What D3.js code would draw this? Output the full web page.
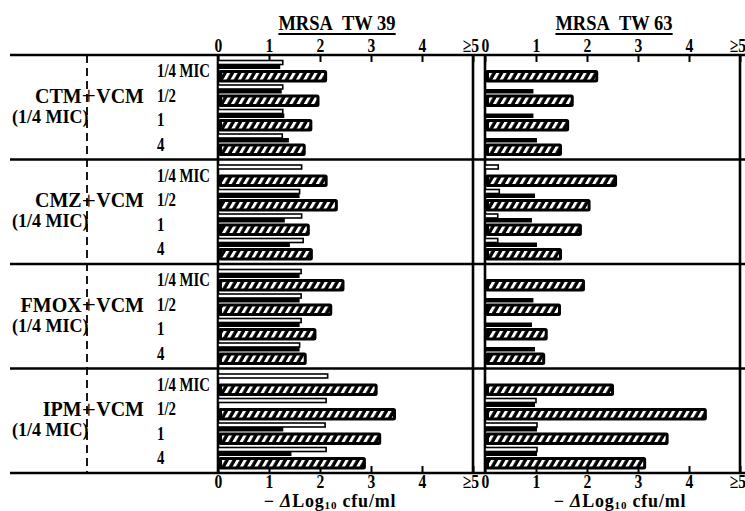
<!DOCTYPE html>
<html>
<head>
<meta charset="utf-8">
<script src="https://cdn.jsdelivr.net/npm/d3@7"></script>
<style>
  html, body { margin: 0; padding: 0; background: #fff; }
  svg { display: block; font-family: "Liberation Serif", "Times New Roman", serif; font-weight: bold; }
</style>
</head>
<body>
<svg id="chart" width="745" height="511"></svg>
<script>
// Combinations of a beta-lactam (at 1/4 MIC) with vancomycin at four concentrations
const groups = ["CTM", "CMZ", "FMOX", "IPM"];
const concentrations = ["1/4 MIC", "1/2", "1", "4"];
const strains = ["MRSA TW 39", "MRSA TW 63"];
const tickValues = [0, 1, 2, 3, 4, 5];
const tickLabels = ["0", "1", "2", "3", "4", "≥5"];

// -ΔLog10 cfu/ml, 16 rows each (4 drugs × 4 VCM concentrations)
// open bars: beta-lactam alone; solid bars: VCM alone; hatched bars: combination
const tw39Open  = [1.27, 1.27, 1.27, 1.26,  1.64, 1.60, 1.64, 1.67,  1.63, 1.63, 1.63, 1.60,  2.15, 2.12, 2.10, 2.12];
const tw39Solid = [1.22, 1.25, 1.30, 1.39,  0.00, 1.60, 1.31, 1.41,  1.60, 1.60, 1.60, 1.60,  0.00, 0.00, 1.28, 1.44];
const tw39Comb  = [2.14, 1.99, 1.85, 1.72,  2.15, 2.35, 1.80, 1.86,  2.48, 2.24, 1.93, 1.74,  3.13, 3.49, 3.20, 2.90];

const tw63Open  = [0.00, 0.00, 0.00, 0.00,  0.26, 0.28, 0.25, 0.25,  0.00, 0.00, 0.00, 0.00,  0.00, 1.00, 1.02, 1.02];
const tw63Solid = [0.00, 0.95, 0.95, 1.02,  0.00, 0.98, 0.92, 1.02,  0.00, 0.95, 0.92, 0.98,  0.00, 0.98, 1.02, 1.02];
const tw63Comb  = [2.22, 1.74, 1.65, 1.51,  2.59, 2.07, 1.90, 1.51,  1.96, 1.49, 1.23, 1.18,  2.53, 4.35, 3.60, 3.16];

const panels = [
  { title: strains[0], open: tw39Open, solid: tw39Solid, comb: tw39Comb, range: [218, 473], titleX: 337, axisTitleX: 330 },
  { title: strains[1], open: tw63Open, solid: tw63Solid, comb: tw63Comb, range: [485, 740], titleX: 614, axisTitleX: 620 }
];

const svg = d3.select("#chart");
const plotTop = 55, plotBottom = 473;

const yGroup = d3.scaleBand().domain(groups).range([plotTop, plotBottom]);
const yRow = d3.scaleBand().domain(concentrations).range([5.5, 103.5]);

// hatch: short white slashes on black
const defs = svg.append("defs");
defs.append("pattern")
  .attr("id", "slash")
  .attr("patternUnits", "userSpaceOnUse")
  .attr("width", 6.3).attr("height", 12)
  .attr("patternTransform", "rotate(30)")
  .append("rect")
  .attr("x", 0).attr("y", 0).attr("width", 2.9).attr("height", 12)
  .attr("fill", "#fff");

// horizontal rules at group boundaries
const rules = groups.map(g => yGroup(g)).concat([plotBottom]);
svg.append("g").selectAll("line").data(rules).join("line")
  .attr("x1", 10).attr("x2", 745)
  .attr("y1", d => d).attr("y2", d => d)
  .attr("stroke", "#000").attr("stroke-width", 2.6);

// dashed divider in the label column
svg.append("line")
  .attr("x1", 87).attr("x2", 87).attr("y1", plotTop).attr("y2", plotBottom)
  .attr("stroke", "#000").attr("stroke-width", 1.8)
  .attr("stroke-dasharray", "8,5");

// group labels: "<drug> + VCM" over "(1/4 MIC)"
groups.forEach(g => {
  const y0 = yGroup(g);
  const lbl = svg.append("text").attr("font-size", 20);
  lbl.append("tspan").attr("x", 144).attr("y", y0 + 47.5).attr("text-anchor", "end").text(g);
  lbl.append("tspan").attr("font-size", 25).attr("font-weight", "normal").attr("dy", 1.5).text("+");
  lbl.append("tspan").attr("dx", 0.5).attr("dy", -1.5).text("VCM");
  lbl.append("tspan").attr("x", 12).attr("y", y0 + 67.5).attr("text-anchor", "start")
    .attr("font-size", 18).text("(1/4 MIC)");

  concentrations.forEach(c => {
    svg.append("text")
      .attr("transform", `translate(157,${y0 + yRow(c) + 16.5}) scale(0.8,1)`)
      .attr("font-size", 18.5)
      .text(c);
  });
});

panels.forEach(p => {
  const x = d3.scaleLinear().domain([0, 5]).range(p.range);

  // frame verticals
  svg.append("g").selectAll("line").data([0, 5]).join("line")
    .attr("x1", d => x(d)).attr("x2", d => x(d))
    .attr("y1", plotTop).attr("y2", plotBottom)
    .attr("stroke", "#000").attr("stroke-width", 2.6);

  // axes (ticks pointing inward)
  const styleAxis = (g, dy) => {
    g.select(".domain").remove();
    g.selectAll(".tick line").attr("stroke", "#000").attr("stroke-width", 2);
    g.selectAll(".tick text")
      .attr("fill", "#000")
      .attr("font-size", 19.5)
      .attr("font-family", "\"Liberation Serif\", serif")
      .attr("font-weight", "bold")
      .attr("dy", dy)
      .attr("transform", "scale(0.8,1)")
      .filter((d, i) => i === tickValues.length - 1)
      .attr("text-anchor", "end").attr("x", 7);
  };
  const fmt = (d, i) => tickLabels[i];

  svg.append("g").attr("transform", `translate(0,${plotTop})`)
    .call(d3.axisTop(x).tickValues(tickValues).tickFormat(fmt).tickSizeInner(-7).tickSizeOuter(0).tickPadding(3))
    .call(g => styleAxis(g, 0));
  svg.append("g").attr("transform", `translate(0,${plotBottom})`)
    .call(d3.axisBottom(x).tickValues(tickValues).tickFormat(fmt).tickSizeInner(-7).tickSizeOuter(0).tickPadding(3))
    .call(g => styleAxis(g, 11.5));

  // strain title, underlined
  const t = svg.append("text")
    .attr("x", p.titleX).attr("y", 30)
    .attr("text-anchor", "middle").attr("font-size", 21)
    .attr("transform", `translate(${p.titleX * (1 - 0.88)},0) scale(0.88,1)`)
    .style("white-space", "pre")
    .text(p.title.replace(" ", "\u00a0\u00a0"));
  const bb = t.node().getBBox();
  svg.append("line")
    .attr("x1", bb.x * 0.88 + p.titleX * 0.12).attr("x2", (bb.x + bb.width) * 0.88 + p.titleX * 0.12)
    .attr("y1", 34).attr("y2", 34)
    .attr("stroke", "#000").attr("stroke-width", 2);

  // x-axis title
  const at = svg.append("text").attr("x", p.axisTitleX).attr("y", 506.5)
    .attr("text-anchor", "middle").attr("font-size", 18)
    .attr("letter-spacing", 0.8);
  at.append("tspan").text("− ");
  at.append("tspan").attr("font-style", "italic").text("Δ");
  at.append("tspan").text("Log");
  at.append("tspan").attr("font-size", 11).attr("dy", 2).text("10");
  at.append("tspan").attr("dy", -2).text(" cfu/ml");

  // bars
  const rows = [];
  groups.forEach((g, gi) => concentrations.forEach((c, ci) => {
    const i = gi * concentrations.length + ci;
    rows.push({ y: yGroup(g) + yRow(c), open: p.open[i], solid: p.solid[i], comb: p.comb[i] });
  }));

  const bars = svg.append("g");
  // combination: black bar with white slashes inside a black rim
  bars.selectAll("rect.comb").data(rows.filter(d => d.comb > 0)).join("rect")
    .attr("class", "comb")
    .attr("x", x(0)).attr("y", d => d.y + 9.5)
    .attr("width", d => x(d.comb) - x(0)).attr("height", 12.5)
    .attr("rx", 2.5).attr("fill", "#000");
  bars.selectAll("rect.combHatch").data(rows.filter(d => d.comb > 0)).join("rect")
    .attr("class", "combHatch")
    .attr("x", x(0) + 4).attr("y", d => d.y + 12.5)
    .attr("width", d => Math.max(0, x(d.comb) - x(0) - 7)).attr("height", 6.5)
    .attr("fill", "url(#slash)");
  // VCM alone: solid
  bars.selectAll("rect.solid").data(rows.filter(d => d.solid > 0)).join("rect")
    .attr("class", "solid")
    .attr("x", x(0)).attr("y", d => d.y + 4)
    .attr("width", d => x(d.solid) - x(0)).attr("height", 4.5)
    .attr("fill", "#000");
  // beta-lactam alone: open
  bars.selectAll("rect.open").data(rows.filter(d => d.open > 0)).join("rect")
    .attr("class", "open")
    .attr("x", x(0)).attr("y", d => d.y)
    .attr("width", d => x(d.open) - x(0)).attr("height", 4)
    .attr("fill", "#fff").attr("stroke", "#000").attr("stroke-width", 1.6);
});
</script>
</body>
</html>
